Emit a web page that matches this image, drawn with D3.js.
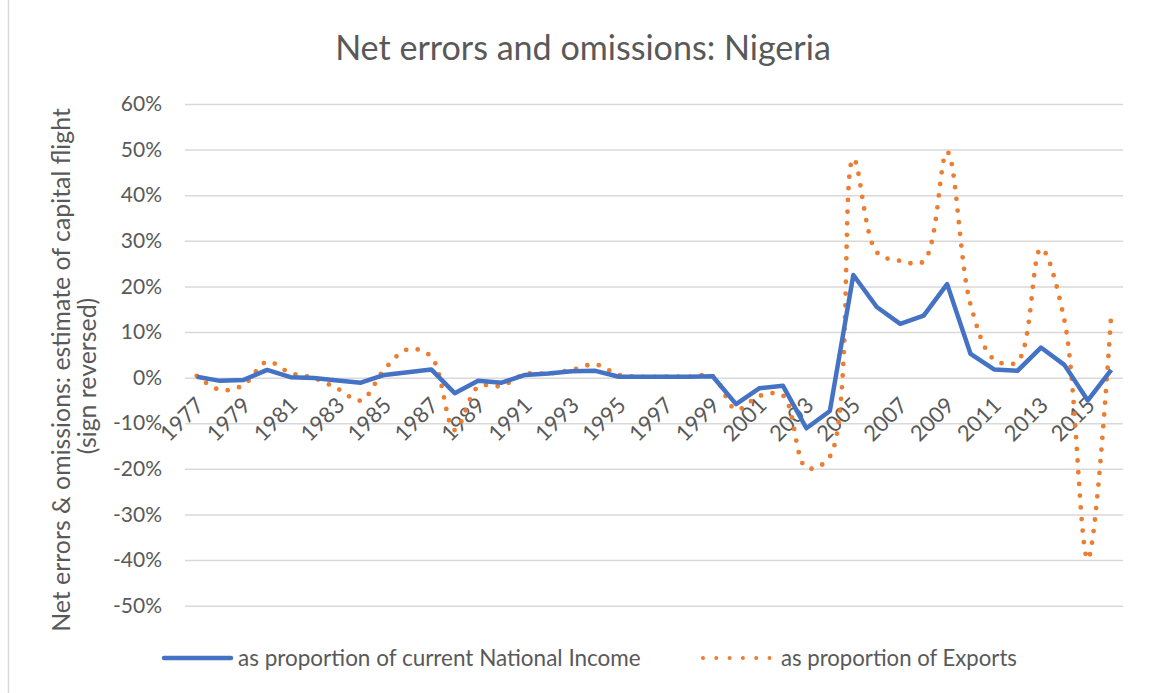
<!DOCTYPE html>
<html>
<head>
<meta charset="utf-8">
<script src="https://cdn.jsdelivr.net/npm/d3@7"></script>
<style>
    body { margin: 0; background: #ffffff; }
    #data-viz { width: 1153px; height: 693px; }
    text { font-family: Lato, "Open Sans", sans-serif; fill: #595959; }
</style>
</head>
<body>
<div id="data-viz"></div>
<script>
// values, in percent
const years = d3.range(1977, 2017)
const nationalIncome = [
    0.2, -0.7, -0.5, 1.7, 0.1, -0.1, -0.6, -1.1, 0.6, 1.2,
    1.8, -3.4, -0.7, -1.1, 0.6, 0.9, 1.4, 1.5, 0.2, 0.2,
    0.2, 0.2, 0.3, -5.8, -2.3, -1.8, -11.1, -7.3, 22.5, 15.5,
    11.8, 13.6, 20.5, 5.2, 1.8, 1.5, 6.6, 2.8, -5.0, 1.7
]
const exports = [
    0.4, -2.7, -1.6, 3.5, 1.0, -0.1, -2.4, -5.0, 1.8, 6.2,
    4.6, -11.5, -2.0, -1.8, 0.8, 0.9, 1.7, 2.9, 0.6, 0.2,
    0.2, 0.2, 0.3, -7.0, -4.0, -3.9, -19.8, -17.3, 48.0, 27.5,
    25.6, 25.5, 49.5, 16.0, 4.0, 3.5, 28.3, 12.6, -39.8, 14.1
]
const yTicks = [-0.5, -0.4, -0.3, -0.2, -0.1, 0, 0.1, 0.2, 0.3, 0.4, 0.5, 0.6]
const xTickYears = years.filter(d => (d - 1977) % 2 === 0)
const seriesNames = ["as proportion of current National Income", "as proportion of Exports"]

function drawChart() {
    const dimensions = {
        width: 1153,
        height: 693,
        margin: { top: 104, right: 30, bottom: 87.3, left: 185 }
    }
    dimensions.boundedWidth = dimensions.width - dimensions.margin.left - dimensions.margin.right
    dimensions.boundedHeight = dimensions.height - dimensions.margin.top - dimensions.margin.bottom

    const blue = "#4472C4"
    const orange = "#ED7D31"
    const gridColor = "#D9D9D9"

    const wrapper = d3.select("#data-viz")
        .append("svg")
        .attr("width", dimensions.width)
        .attr("height", dimensions.height)

    // chart frame (only the left edge shows in the picture)
    wrapper.append("rect")
        .attr("x", 8.5)
        .attr("y", -5)
        .attr("width", dimensions.width)
        .attr("height", dimensions.height + 10)
        .attr("fill", "none")
        .attr("stroke", gridColor)
        .attr("stroke-width", 1.5)

    const bounds = wrapper.append("g")
        .attr("transform", `translate(${dimensions.margin.left}, ${dimensions.margin.top})`)

    const xScale = d3.scalePoint()
        .domain(years)
        .range([0, dimensions.boundedWidth])
        .padding(0.5)

    const yScale = d3.scaleLinear()
        .domain([-0.5, 0.6])
        .range([dimensions.boundedHeight, 0])

    // excel style percent, plain hyphen for the minus
    const pctFormat = d => Math.round(d * 100) + "%"

    // gridlines + y tick labels
    const yAxis = bounds.append("g")
        .call(d3.axisLeft(yScale)
            .tickValues(yTicks)
            .tickSize(-dimensions.boundedWidth)
            .tickPadding(23)
            .tickFormat(pctFormat))
    yAxis.select(".domain").remove()
    yAxis.selectAll(".tick line")
        .attr("stroke", gridColor)
        .attr("stroke-width", 1.5)
    yAxis.selectAll(".tick text")
        .attr("font-size", 21)
        .attr("fill", "#595959")
        .style("font-family", "Lato, sans-serif")

    // x labels sit on the zero line, rotated
    const xAxis = bounds.append("g")
        .attr("transform", `translate(0, ${yScale(0)})`)
        .call(d3.axisBottom(xScale)
            .tickValues(xTickYears)
            .tickSize(0))
    xAxis.select(".domain").remove()
    xAxis.selectAll(".tick text")
        .attr("x", 0)
        .attr("y", 0)
        .attr("dy", 0)
        .attr("text-anchor", "end")
        .attr("transform", "translate(8, 29) rotate(-45)")
        .attr("font-size", 22)
        .attr("fill", "#595959")
        .style("font-family", "Lato, sans-serif")

    // lines
    const incomeLine = d3.line()
        .x((d, i) => xScale(years[i]))
        .y(d => yScale(d / 100))

    const exportsLine = d3.line()
        .x((d, i) => xScale(years[i]))
        .y(d => yScale(d / 100))
        .curve(d3.curveCatmullRom.alpha(0.5))

    bounds.append("path")
        .attr("d", exportsLine(exports))
        .attr("fill", "none")
        .attr("stroke", orange)
        .attr("stroke-width", 4.8)
        .attr("stroke-linecap", "round")
        .attr("stroke-dasharray", "0 11.7")

    bounds.append("path")
        .attr("d", incomeLine(nationalIncome))
        .attr("fill", "none")
        .attr("stroke", blue)
        .attr("stroke-width", 4.5)
        .attr("stroke-linejoin", "round")

    // fit a text to a target width (Calibri isn't available)
    function fitWidth(sel, target) {
        const len = sel.node().getComputedTextLength()
        const size = parseFloat(sel.attr("font-size"))
        sel.attr("font-size", size * target / len)
    }

    // title
    const title = wrapper.append("text")
        .attr("x", 583)
        .attr("y", 60)
        .attr("text-anchor", "middle")
        .attr("font-size", 34)
        .text("Net errors and omissions: Nigeria")
    fitWidth(title, 496)

    // y axis title
    const yTitle = wrapper.append("g")
        .attr("transform", "translate(0, 370) rotate(-90)")
    const yTitle1 = yTitle.append("text")
        .attr("x", 0)
        .attr("y", 70)
        .attr("text-anchor", "middle")
        .attr("font-size", 22)
        .text("Net errors & omissions: estimate of capital flight")
    fitWidth(yTitle1, 524)
    yTitle.append("text")
        .attr("x", -6)
        .attr("y", 96)
        .attr("text-anchor", "middle")
        .attr("font-size", yTitle1.attr("font-size"))
        .text("(sign reversed)")

    // legend
    const legendY = 658
    const legend = wrapper.append("g")

    legend.append("line")
        .attr("x1", 164).attr("x2", 231)
        .attr("y1", legendY).attr("y2", legendY)
        .attr("stroke", blue)
        .attr("stroke-width", 4.5)
        .attr("stroke-linecap", "round")

    const legendText1 = legend.append("text")
        .attr("x", 238)
        .attr("y", legendY)
        .attr("dy", "0.35em")
        .attr("font-size", 21)
        .text(seriesNames[0])
    fitWidth(legendText1, 403)

    legend.append("line")
        .attr("x1", 703).attr("x2", 770)
        .attr("y1", legendY).attr("y2", legendY)
        .attr("stroke", orange)
        .attr("stroke-width", 4)
        .attr("stroke-linecap", "round")
        .attr("stroke-dasharray", "0 13.3")

    const legendText2 = legend.append("text")
        .attr("x", 781)
        .attr("y", legendY)
        .attr("dy", "0.35em")
        .attr("font-size", 21)
        .text(seriesNames[1])
    fitWidth(legendText2, 236)
}

drawChart()
</script>
</body>
</html>
